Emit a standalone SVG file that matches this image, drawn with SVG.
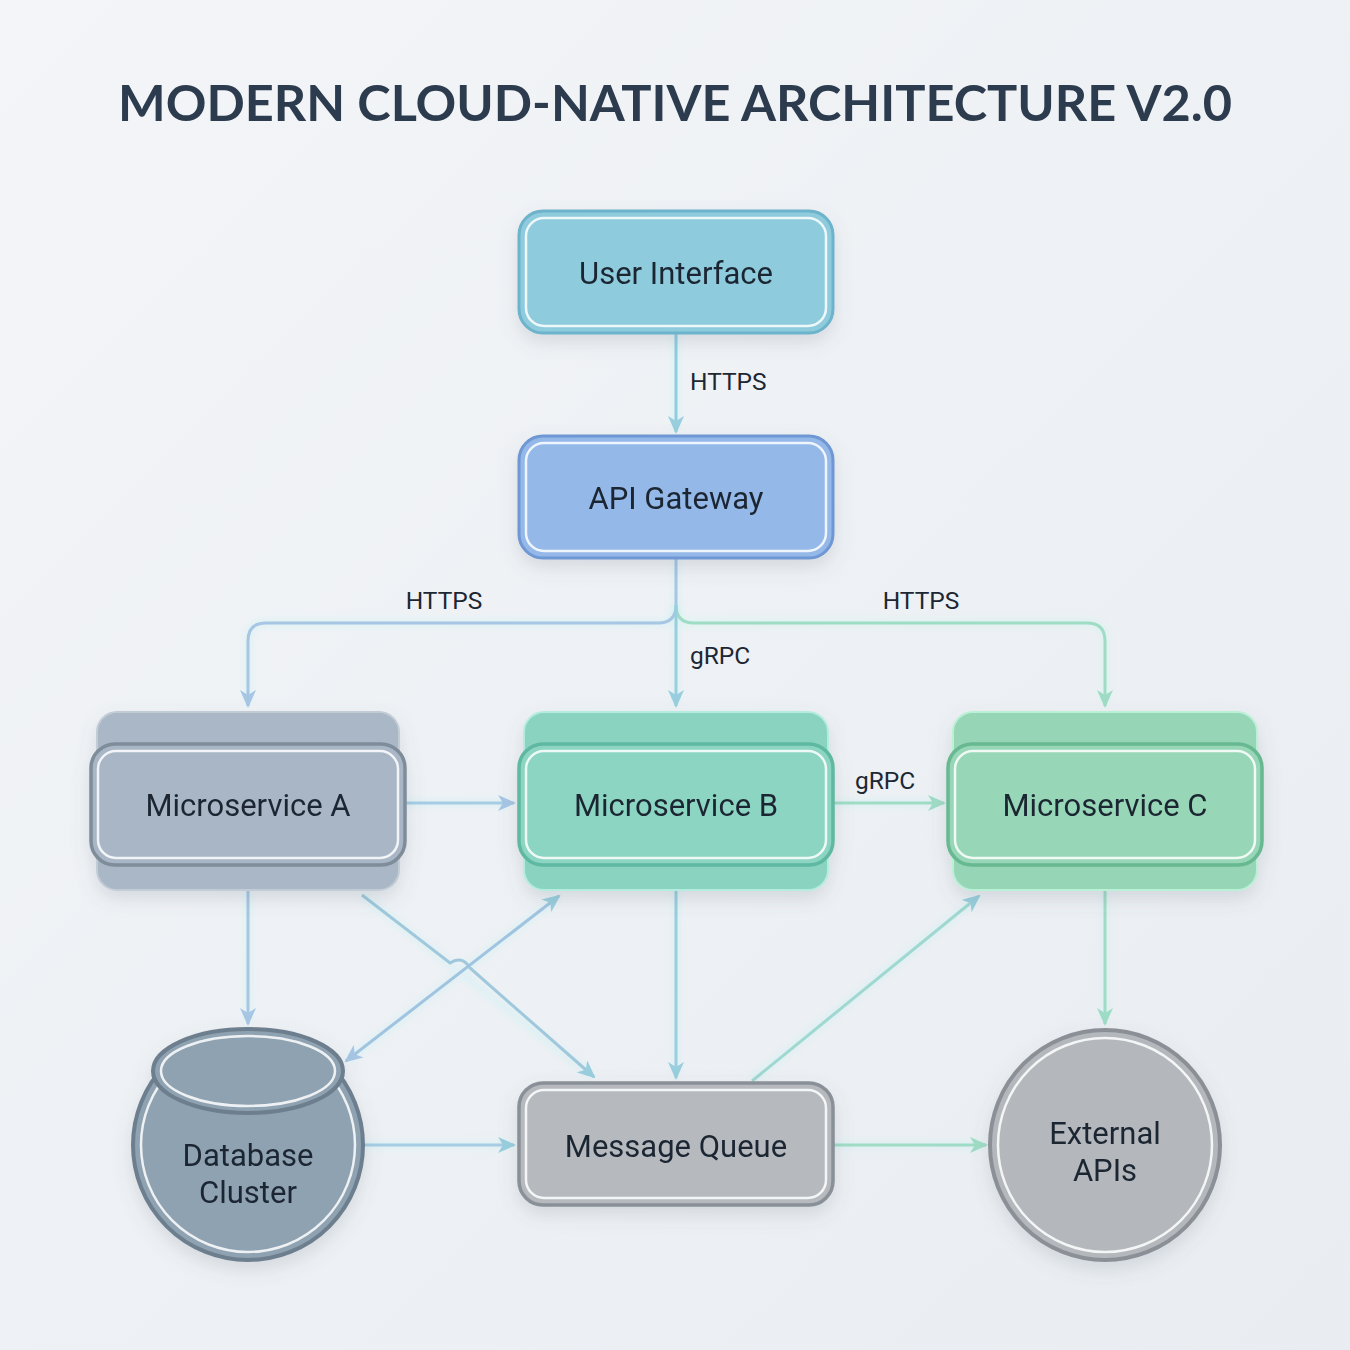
<svg xmlns="http://www.w3.org/2000/svg" width="1350" height="1350" viewBox="0 0 1350 1350">
<defs>
<linearGradient id="bg" x1="0" y1="0" x2="1" y2="1"><stop offset="0" stop-color="#f3f5f8"/><stop offset="1" stop-color="#e9edf1"/></linearGradient>
<filter id="sh" x="-20%" y="-20%" width="140%" height="150%"><feDropShadow dx="0" dy="8" stdDeviation="9" flood-color="#5a6a7a" flood-opacity="0.18"/></filter>
<filter id="glow" x="-10%" y="-10%" width="120%" height="120%"><feGaussianBlur stdDeviation="3"/></filter>
<marker id="aBlue" markerWidth="18" markerHeight="16" refX="16" refY="8" orient="auto-start-reverse" markerUnits="userSpaceOnUse"><path d="M0,0 L18,8 L0,16 L5,8 Z" fill="#a6c6e4"/></marker>
<marker id="aTeal" markerWidth="18" markerHeight="16" refX="16" refY="8" orient="auto-start-reverse" markerUnits="userSpaceOnUse"><path d="M0,0 L18,8 L0,16 L5,8 Z" fill="#98cedd"/></marker>
<marker id="aGreen" markerWidth="18" markerHeight="16" refX="16" refY="8" orient="auto-start-reverse" markerUnits="userSpaceOnUse"><path d="M0,0 L18,8 L0,16 L5,8 Z" fill="#9fdcc5"/></marker>
<style>
.lbl{font-family:Roboto,"Liberation Sans",sans-serif;font-size:31px;fill:#1c2733;text-anchor:middle}
.el{font-family:Roboto,"Liberation Sans",sans-serif;font-size:24.5px;fill:#1c2733}
.in{fill:none;stroke:#ffffff;stroke-opacity:0.85;stroke-width:2.5}
.c{fill:none;stroke-width:3}
.g{fill:none;stroke-width:9;stroke-opacity:0.35}
</style>
</defs>
<rect width="1350" height="1350" fill="url(#bg)"/>
<text x="675" y="121" font-family="Lato,'Open Sans','Liberation Sans',sans-serif" font-weight="700" font-size="50" fill="#2c3c4e" text-anchor="middle" textLength="1114" lengthAdjust="spacingAndGlyphs">MODERN CLOUD-NATIVE ARCHITECTURE V2.0</text>

<g id="connectors">
<g filter="url(#glow)">
<path class="g" stroke="#c7f0f4" d="M676,333 V430"/>
<path class="g" stroke="#c7f0f4" d="M676,558 V605 Q676,623 658,623 H266 Q248,623 248,641 V704"/>
<path class="g" stroke="#c7f6e8" d="M676,605 Q676,623 694,623 H1087 Q1105,623 1105,641 V704"/>
<path class="g" stroke="#c7f0f4" d="M676,605 V704"/>
<path class="g" stroke="#c7f0f4" d="M405,803 H512 M833,803 H942 M248,890 V1022 M676,890 V1076 M1105,890 V1022 M363,1145 H512 M833,1145 H984"/>
<path class="g" stroke="#c7f0f4" d="M362,895 L592,1076 M348,1060 L558,897 M752,1080 L978,897"/>
</g>
<path class="c" stroke="#8fcde0" d="M676,333 V432" marker-end="url(#aTeal)"/>
<path class="c" stroke="#a6c6e4" d="M676,558 V605 Q676,623 658,623 H266 Q248,623 248,641 V706" marker-end="url(#aBlue)"/>
<path class="c" stroke="#9fdcc5" d="M676,605 Q676,623 694,623 H1087 Q1105,623 1105,641 V706" marker-end="url(#aGreen)"/>
<path class="c" stroke="#98cedd" d="M676,605 V706" marker-end="url(#aTeal)"/>
<path class="c" stroke="#a6cde4" d="M405,803 H514" marker-end="url(#aBlue)"/>
<path class="c" stroke="#9fdcc5" d="M833,803 H944" marker-end="url(#aGreen)"/>
<path class="c" stroke="#a6c6e4" d="M248,890 V1024" marker-end="url(#aBlue)"/>
<path class="c" stroke="#98cedd" d="M676,890 V1078" marker-end="url(#aTeal)"/>
<path class="c" stroke="#9fdcc5" d="M1105,890 V1024" marker-end="url(#aGreen)"/>
<path class="c" stroke="#a6cde4" d="M363,1145 H514" marker-end="url(#aTeal)"/>
<path class="c" stroke="#9fdcc5" d="M833,1145 H986" marker-end="url(#aGreen)"/>
<path class="c" stroke="#a0c8dc" d="M362,895 L450,963 Q462,955 470,968 L594,1077" marker-end="url(#aTeal)"/>
<path class="c" stroke="#a0c4e0" d="M346,1061 L559,896" marker-start="url(#aBlue)" marker-end="url(#aTeal)"/>
<path class="c" stroke="#9fd8d0" d="M752,1081 L979,896" marker-end="url(#aTeal)"/>
<text class="el" x="690" y="390">HTTPS</text>
<text class="el" x="444" y="609" text-anchor="middle">HTTPS</text>
<text class="el" x="921" y="609" text-anchor="middle">HTTPS</text>
<text class="el" x="690" y="664">gRPC</text>
<text class="el" x="855" y="789">gRPC</text>
</g>

<g id="user-interface" filter="url(#sh)">
<rect x="519" y="211" width="314" height="122" rx="24" fill="#8ecbdd" stroke="#6db3cb" stroke-width="3"/>
<rect class="in" x="526" y="218" width="300" height="108" rx="18"/>
<text class="lbl" x="676" y="284">User Interface</text>
</g>

<g id="api-gateway" filter="url(#sh)">
<rect x="519" y="436" width="314" height="122" rx="24" fill="#94b8e8" stroke="#6e97d4" stroke-width="3"/>
<rect class="in" x="526" y="443" width="300" height="108" rx="18"/>
<text class="lbl" x="676" y="509">API Gateway</text>
</g>

<g id="microservice-a" filter="url(#sh)">
<rect x="97" y="712" width="302" height="178" rx="20" fill="#a9b7c6" stroke="#c2ccd6" stroke-width="2"/>
<rect x="91" y="744" width="314" height="121" rx="24" fill="#a8b6c6" stroke="#7f8d9b" stroke-width="3.5"/>
<rect class="in" x="98" y="751" width="300" height="107" rx="18"/>
<text class="lbl" x="248" y="816">Microservice A</text>
</g>

<g id="microservice-b" filter="url(#sh)">
<rect x="524" y="712" width="304" height="178" rx="20" fill="#8bd3c1" stroke="#b4ece0" stroke-width="2"/>
<rect x="519" y="744" width="314" height="121" rx="24" fill="#8bd5c2" stroke="#5fb8a1" stroke-width="3.5"/>
<rect class="in" x="526" y="751" width="300" height="107" rx="18"/>
<text class="lbl" x="676" y="816">Microservice B</text>
</g>

<g id="microservice-c" filter="url(#sh)">
<rect x="953" y="712" width="304" height="178" rx="20" fill="#96d6b6" stroke="#baf0d6" stroke-width="2"/>
<rect x="948" y="744" width="314" height="121" rx="24" fill="#97d7b7" stroke="#67b891" stroke-width="3.5"/>
<rect class="in" x="955" y="751" width="300" height="107" rx="18"/>
<text class="lbl" x="1105" y="816">Microservice C</text>
</g>

<g id="database-cluster" filter="url(#sh)">
<circle cx="248" cy="1145" r="115" fill="#8fa2b1" stroke="#6d7f8e" stroke-width="4"/>
<circle class="in" cx="248" cy="1145" r="107"/>
<ellipse cx="248" cy="1071" rx="95" ry="42" fill="#8fa2b1" stroke="#6d7f8e" stroke-width="4"/>
<ellipse class="in" cx="248" cy="1071" rx="87" ry="35"/>
<text class="lbl" x="248" y="1166">Database</text>
<text class="lbl" x="248" y="1203">Cluster</text>
</g>

<g id="message-queue" filter="url(#sh)">
<rect x="519" y="1083" width="314" height="122" rx="24" fill="#b6babf" stroke="#899097" stroke-width="3.5"/>
<rect class="in" x="526" y="1090" width="300" height="108" rx="18"/>
<text class="lbl" x="676" y="1157">Message Queue</text>
</g>

<g id="external-apis" filter="url(#sh)">
<circle cx="1105" cy="1145" r="115" fill="#b4b8bd" stroke="#8b9096" stroke-width="4"/>
<circle class="in" cx="1105" cy="1145" r="107"/>
<text class="lbl" x="1105" y="1144">External</text>
<text class="lbl" x="1105" y="1181">APIs</text>
</g>
</svg>
